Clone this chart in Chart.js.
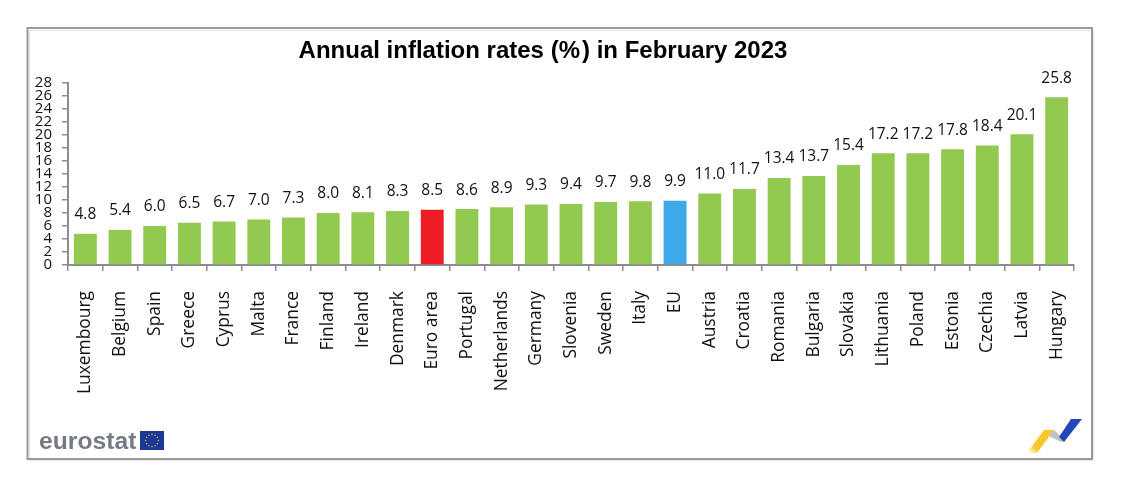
<!DOCTYPE html>
<html>
<head>
<meta charset="utf-8">
<title>Annual inflation rates</title>
<script src="https://cdn.jsdelivr.net/npm/chart.js@4"></script>
<style>
html, body { margin: 0; padding: 0; background: #fff; }
#wrap { position: relative; width: 1125px; height: 488px; }
</style>
</head>
<body>
<div id="wrap"><canvas id="inflation"></canvas></div>
<script>
const countries = ["Luxembourg", "Belgium", "Spain", "Greece", "Cyprus", "Malta", "France", "Finland", "Ireland", "Denmark", "Euro area", "Portugal", "Netherlands", "Germany", "Slovenia", "Sweden", "Italy", "EU", "Austria", "Croatia", "Romania", "Bulgaria", "Slovakia", "Lithuania", "Poland", "Estonia", "Czechia", "Latvia", "Hungary"];
const rates = [4.8, 5.4, 6.0, 6.5, 6.7, 7.0, 7.3, 8.0, 8.1, 8.3, 8.5, 8.6, 8.9, 9.3, 9.4, 9.7, 9.8, 9.9, 11.0, 11.7, 13.4, 13.7, 15.4, 17.2, 17.2, 17.8, 18.4, 20.1, 25.8];
const chartTitle = "Annual inflation rates (%\u200A) in February 2023";

const GREEN = "#92C950";
const barColors = countries.map(function (c) {
    if (c === "Euro area") return "#EE1C25";
    if (c === "EU") return "#3DA9E9";
    return GREEN;
});

// value labels above the bars
const valueLabels = {
    id: "valueLabels",
    afterDatasetsDraw(chart) {
        const ctx = chart.ctx;
        ctx.save();
        ctx.font = "15.5px 'Open Sans'";
        ctx.fillStyle = "#111";
        ctx.textAlign = "center";
        ctx.textBaseline = "middle";
        chart.getDatasetMeta(0).data.forEach(function (bar, i) {
            ctx.fillText(rates[i].toFixed(1), bar.x, bar.y - 19);
        });
        ctx.restore();
    }
};

// outer frame and the two logos
const decorations = {
    id: "decorations",
    beforeDraw(chart) {
        const ctx = chart.ctx;
        ctx.save();
        ctx.fillStyle = "#fff";
        ctx.fillRect(0, 0, 1125, 488);
        ctx.strokeStyle = "#E6E6E6";
        ctx.lineWidth = 1;
        ctx.strokeRect(29.5, 30.5, 1064, 430);
        ctx.strokeStyle = "#9A9A9A";
        ctx.lineWidth = 2;
        ctx.strokeRect(27.5, 28, 1064.5, 431);

        ctx.font = "bold 24.7px 'Liberation Sans'";
        ctx.fillStyle = "#767A82";
        ctx.textBaseline = "alphabetic";
        ctx.fillText("eurostat", 39, 449);

        ctx.fillStyle = "#1C3A94";
        ctx.fillRect(140, 431, 24, 19);
        ctx.fillStyle = "#E8C93A";
        for (let a = 0; a < 12; a++) {
            const t = a * Math.PI / 6;
            ctx.fillRect(152 + 6.2 * Math.cos(t) - 0.6, 440.5 + 6.2 * Math.sin(t) - 0.6, 1.2, 1.2);
        }

        const yellow = ctx.createLinearGradient(1028, 453, 1050, 431);
        yellow.addColorStop(0, "rgba(250,200,40,0)");
        yellow.addColorStop(0.3, "#F9C72B");
        yellow.addColorStop(1, "#F9C72B");
        ctx.fillStyle = yellow;
        ctx.beginPath();
        ctx.moveTo(1027, 453); ctx.lineTo(1044, 430); ctx.lineTo(1054, 430); ctx.lineTo(1037, 453);
        ctx.fill();
        ctx.fillStyle = "#BFC1C4";
        ctx.beginPath();
        ctx.moveTo(1049, 436); ctx.lineTo(1054, 430); ctx.lineTo(1066, 441); ctx.lineTo(1061, 442);
        ctx.fill();
        ctx.fillStyle = "#2347B8";
        ctx.beginPath();
        ctx.moveTo(1059, 437); ctx.lineTo(1071, 419); ctx.lineTo(1082, 419); ctx.lineTo(1064, 442);
        ctx.fill();
        ctx.restore();
    }
};

new Chart(document.getElementById("inflation"), {
    type: "bar",
    data: {
        labels: countries,
        datasets: [{
            data: rates,
            backgroundColor: barColors,
            barPercentage: 0.66,
            categoryPercentage: 1
        }]
    },
    options: {
        responsive: true,
        maintainAspectRatio: false,
        animation: false,
        layout: { padding: { left: 12, right: 51, top: 37, bottom: 0 } },
        plugins: {
            legend: { display: false },
            tooltip: { enabled: false },
            title: {
                display: true,
                text: chartTitle,
                color: "#000",
                font: { family: "'Liberation Sans'", size: 24, weight: "bold" },
                padding: { top: 0, bottom: 17.2 }
            }
        },
        scales: {
            x: {
                offset: true,
                grid: { offset: true, drawOnChartArea: false, color: "#8C8C8C", tickLength: 6, lineWidth: 1.5 },
                border: { color: "#8C8C8C", width: 2 },
                ticks: {
                    autoSkip: false,
                    minRotation: 90,
                    maxRotation: 90,
                    color: "#111",
                    padding: 20,
                    font: { family: "'Open Sans'", size: 17.4 }
                },
                afterFit(scale) { scale.height = 223; }
            },
            y: {
                min: 0,
                max: 28,
                grid: { drawOnChartArea: false, color: "#8C8C8C", tickLength: 6, lineWidth: 1.5 },
                border: { color: "#8C8C8C", width: 2 },
                ticks: {
                    stepSize: 2,
                    autoSkip: false,
                    color: "#111",
                    padding: 10,
                    font: { family: "'Open Sans'", size: 15 }
                },
                afterFit(scale) { scale.width = 56; }
            }
        }
    },
    plugins: [decorations, valueLabels]
});
</script>
</body>
</html>
